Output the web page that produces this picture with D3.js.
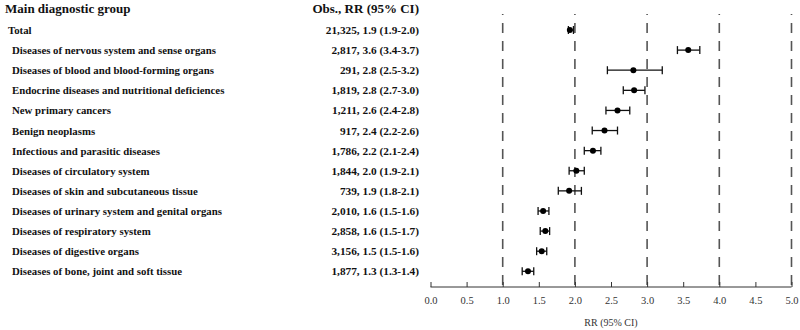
<!DOCTYPE html>
<html>
<head>
<meta charset="utf-8">
<script src="https://cdn.jsdelivr.net/npm/d3@7"></script>
<style>
  body { margin: 0; background: #fff; }
  svg { display: block; font-family: "Liberation Serif", "Times New Roman", serif; }
  .lbl { font-weight: bold; font-size: 10.8px; fill: #111; }
  .val { font-weight: bold; font-size: 11.3px; fill: #111; }
  .hdr { font-weight: bold; font-size: 13px; fill: #111; }
  .axis text { font-size: 10.5px; fill: #333; font-family: "Liberation Serif", serif; }
  .axis path, .axis line { stroke: #333; }
</style>
</head>
<body>
<div id="chart"></div>
<script>
var groups = [
  "Total",
  "Diseases of nervous system and sense organs",
  "Diseases of blood and blood-forming organs",
  "Endocrine diseases and nutritional deficiences",
  "New primary cancers",
  "Benign neoplasms",
  "Infectious and parasitic diseases",
  "Diseases of circulatory system",
  "Diseases of skin and subcutaneous tissue",
  "Diseases of urinary system and genital organs",
  "Diseases of respiratory system",
  "Diseases of digestive organs",
  "Diseases of bone, joint and soft tissue"
];
var valueLabels = [
  "21,325, 1.9 (1.9-2.0)",
  "2,817, 3.6 (3.4-3.7)",
  "291, 2.8 (2.5-3.2)",
  "1,819, 2.8 (2.7-3.0)",
  "1,211, 2.6 (2.4-2.8)",
  "917, 2.4 (2.2-2.6)",
  "1,786, 2.2 (2.1-2.4)",
  "1,844, 2.0 (1.9-2.1)",
  "739, 1.9 (1.8-2.1)",
  "2,010, 1.6 (1.5-1.6)",
  "2,858, 1.6 (1.5-1.7)",
  "3,156, 1.5 (1.5-1.6)",
  "1,877, 1.3 (1.3-1.4)"
];
var rr    = [1.93, 3.57, 2.81, 2.82, 2.59, 2.41, 2.25, 2.02, 1.92, 1.56, 1.59, 1.54, 1.35];
var lower = [1.91, 3.42, 2.45, 2.67, 2.43, 2.24, 2.13, 1.92, 1.77, 1.49, 1.52, 1.47, 1.27];
var upper = [1.98, 3.73, 3.21, 2.97, 2.76, 2.59, 2.36, 2.13, 2.09, 1.64, 1.65, 1.61, 1.43];
var xTicks = [0, 0.5, 1, 1.5, 2, 2.5, 3, 3.5, 4, 4.5, 5];
var refLines = [1, 2, 3, 4, 5];

var width = 800, height = 330;

var svg = d3.select("#chart").append("svg")
    .attr("width", width)
    .attr("height", height);

var x = d3.scaleLinear().domain([0, 5]).range([430.5, 791.5]);
var y = d3.scalePoint().domain(groups).range([30, 271.3]);

var rows = groups.map(function(g, i) {
  return {name: g, value: valueLabels[i], rr: rr[i], lo: lower[i], hi: upper[i], i: i};
});

// headers
svg.append("text").attr("class", "hdr")
    .attr("x", 5).attr("y", 13)
    .text("Main diagnostic group");
svg.append("text").attr("class", "hdr")
    .attr("x", 419).attr("y", 13)
    .attr("text-anchor", "end")
    .text("Obs., RR (95% CI)");

// row labels
svg.append("g").selectAll("text")
    .data(rows)
    .enter().append("text")
      .attr("class", "lbl")
      .attr("x", function(d) { return d.i === 0 ? 8 : 12; })
      .attr("y", function(d) { return y(d.name) + 4; })
      .text(function(d) { return d.name; });

svg.append("g").selectAll("text")
    .data(rows)
    .enter().append("text")
      .attr("class", "val")
      .attr("x", 419)
      .attr("y", function(d) { return y(d.name) + 4; })
      .attr("text-anchor", "end")
      .text(function(d) { return d.value; });

// dashed reference lines
svg.append("g").selectAll("line")
    .data(refLines)
    .enter().append("line")
      .attr("x1", function(d) { return x(d); })
      .attr("x2", function(d) { return x(d); })
      .attr("y1", 14)
      .attr("y2", 287)
      .attr("stroke", "#555")
      .attr("stroke-width", 1.6)
      .attr("stroke-dasharray", "10,8")
      .attr("stroke-dashoffset", 9);

// x axis
var axis = svg.append("g")
    .attr("class", "axis")
    .attr("transform", "translate(0,287)")
    .call(d3.axisTop(x).tickValues(xTicks).tickSize(5).tickSizeOuter(5).tickFormat(d3.format(".1f")));
axis.select(".domain").attr("d", "M" + x(0) + ",0H" + x(5));
axis.selectAll("text").attr("y", 17).attr("dy", 0);

svg.append("text")
    .attr("x", x(2.5)).attr("y", 326)
    .attr("text-anchor", "middle")
    .attr("font-size", "10px")
    .attr("fill", "#333")
    .text("RR (95% CI)");

// error bars
var bars = svg.append("g").selectAll("g")
    .data(rows)
    .enter().append("g");

bars.append("line")
    .attr("x1", function(d) { return x(d.lo); })
    .attr("x2", function(d) { return x(d.hi); })
    .attr("y1", function(d) { return y(d.name); })
    .attr("y2", function(d) { return y(d.name); })
    .attr("stroke", "#111").attr("stroke-width", 1.3);

bars.append("line")
    .attr("x1", function(d) { return x(d.lo); })
    .attr("x2", function(d) { return x(d.lo); })
    .attr("y1", function(d) { return y(d.name) - 4; })
    .attr("y2", function(d) { return y(d.name) + 4; })
    .attr("stroke", "#111").attr("stroke-width", 1.3);

bars.append("line")
    .attr("x1", function(d) { return x(d.hi); })
    .attr("x2", function(d) { return x(d.hi); })
    .attr("y1", function(d) { return y(d.name) - 4; })
    .attr("y2", function(d) { return y(d.name) + 4; })
    .attr("stroke", "#111").attr("stroke-width", 1.3);

bars.append("circle")
    .attr("cx", function(d) { return x(d.rr); })
    .attr("cy", function(d) { return y(d.name); })
    .attr("r", 3)
    .attr("fill", "#000");
</script>
</body>
</html>
